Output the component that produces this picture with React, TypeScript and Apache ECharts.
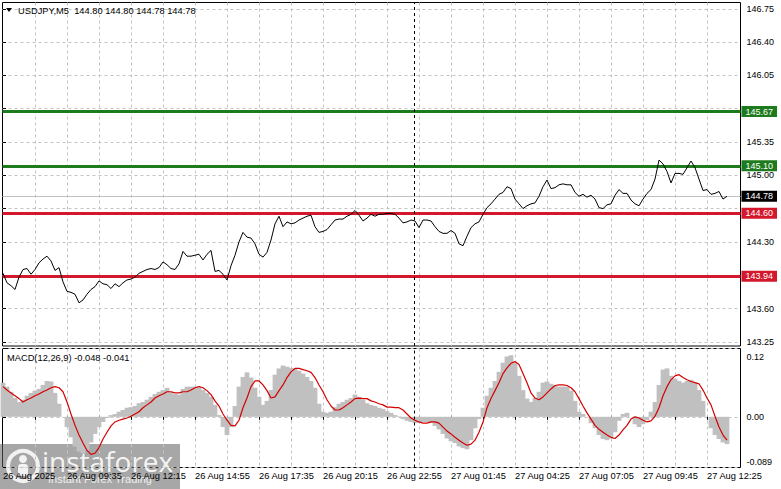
import React, { useEffect, useRef } from "react";
import * as echarts from "echarts";

// ---------- data ----------
const headerText = "USDJPY,M5  144.80 144.80 144.78 144.78";
const macdHeaderText = "MACD(12,26,9) -0.048 -0.041";

// one value every 2 M5 bars (10 minutes)
const barsPerPoint = 2;

const closePrices = [
  143.97, 143.87, 143.84, 143.80, 143.93, 144.01, 144.02, 143.96, 144.01, 144.08,
  144.12, 144.15, 144.10, 144.00, 144.03, 143.88, 143.78, 143.77, 143.75, 143.66,
  143.69, 143.75, 143.80, 143.83, 143.89, 143.86, 143.85, 143.81, 143.86, 143.83,
  143.87, 143.90, 143.91, 143.93, 143.97, 143.99, 144.01, 144.02, 144.01, 144.03,
  144.09, 144.06, 144.02, 144.01, 144.07, 144.20, 144.15, 144.15, 144.16, 144.17,
  144.11, 144.17, 144.21, 143.99, 144.00, 143.96, 143.90, 144.05, 144.16, 144.30,
  144.40, 144.35, 144.34, 144.28, 144.17, 144.14, 144.19, 144.32, 144.49, 144.57,
  144.46, 144.51, 144.49, 144.50, 144.53, 144.55, 144.57, 144.58, 144.46, 144.40,
  144.41, 144.43, 144.48, 144.53, 144.54, 144.54, 144.57, 144.59, 144.63, 144.58,
  144.52, 144.55, 144.59, 144.57, 144.59, 144.59, 144.60, 144.60, 144.59, 144.55,
  144.50, 144.51, 144.53, 144.52, 144.45, 144.53, 144.53, 144.52, 144.46, 144.41,
  144.39, 144.39, 144.42, 144.39, 144.28, 144.26, 144.36, 144.45, 144.49, 144.51,
  144.59, 144.66, 144.70, 144.75, 144.80, 144.82, 144.88, 144.86, 144.75, 144.70,
  144.65, 144.68, 144.70, 144.71, 144.78, 144.88, 144.95, 144.86, 144.87, 144.90,
  144.91, 144.90, 144.90, 144.82, 144.78, 144.80, 144.77, 144.79, 144.75, 144.66,
  144.65, 144.69, 144.70, 144.79, 144.85, 144.81, 144.81, 144.74, 144.70, 144.68,
  144.75, 144.81, 144.85, 144.96, 145.16, 145.12, 145.04, 144.92, 145.02, 145.02,
  145.01, 145.08, 145.15, 145.08, 144.96, 144.84, 144.85, 144.80, 144.81, 144.83,
  144.75, 144.78,
];

const macdHistogram = [
  0.060, 0.053, 0.044, 0.033, 0.026, 0.030, 0.037, 0.042, 0.046, 0.049,
  0.056, 0.063, 0.062, 0.042, 0.023, 0.000, -0.018, -0.036, -0.052, -0.061,
  -0.064, -0.059, -0.045, -0.030, -0.018, -0.009, -0.002, 0.003, 0.005, 0.009,
  0.012, 0.016, 0.017, 0.019, 0.024, 0.026, 0.030, 0.035, 0.040, 0.044,
  0.047, 0.051, 0.044, 0.040, 0.039, 0.049, 0.053, 0.053, 0.053, 0.051,
  0.047, 0.042, 0.035, 0.021, 0.003, -0.018, -0.032, -0.018, 0.019, 0.053,
  0.070, 0.078, 0.069, 0.051, 0.035, 0.021, 0.028, 0.047, 0.074, 0.085,
  0.090, 0.088, 0.086, 0.085, 0.081, 0.076, 0.070, 0.063, 0.051, 0.023,
  0.009, 0.007, 0.009, 0.017, 0.023, 0.026, 0.030, 0.033, 0.039, 0.035,
  0.030, 0.024, 0.021, 0.019, 0.016, 0.014, 0.010, 0.007, 0.003, 0.001,
  -0.004, -0.007, -0.009, -0.011, -0.011, -0.009, -0.009, -0.011, -0.016, -0.022,
  -0.030, -0.038, -0.043, -0.046, -0.052, -0.055, -0.057, -0.041, -0.020, -0.004,
  0.016, 0.037, 0.051, 0.063, 0.079, 0.095, 0.106, 0.108, 0.095, 0.072,
  0.047, 0.032, 0.026, 0.033, 0.044, 0.060, 0.062, 0.058, 0.055, 0.053,
  0.053, 0.053, 0.046, 0.028, 0.009, 0.005, 0.000, -0.011, -0.020, -0.032,
  -0.039, -0.041, -0.038, -0.027, -0.007, 0.005, 0.007, 0.000, -0.013, -0.018,
  -0.013, -0.006, 0.009, 0.026, 0.056, 0.083, 0.085, 0.072, 0.067, 0.063,
  0.060, 0.063, 0.065, 0.060, 0.047, 0.028, 0.000, -0.020, -0.032, -0.039,
  -0.045, -0.048,
];

const macdSignal = [
  0.053, 0.047, 0.042, 0.037, 0.032, 0.026, 0.030, 0.033, 0.037, 0.040,
  0.044, 0.047, 0.051, 0.053, 0.051, 0.044, 0.026, 0.005, -0.015, -0.032,
  -0.046, -0.059, -0.066, -0.064, -0.054, -0.039, -0.027, -0.016, -0.009, -0.006,
  -0.004, -0.002, 0.001, 0.005, 0.009, 0.016, 0.021, 0.026, 0.033, 0.037,
  0.040, 0.044, 0.044, 0.042, 0.042, 0.044, 0.044, 0.047, 0.051, 0.053,
  0.051, 0.046, 0.039, 0.028, 0.019, 0.005, -0.006, -0.015, -0.016, -0.006,
  0.016, 0.033, 0.053, 0.063, 0.063, 0.056, 0.046, 0.033, 0.035, 0.046,
  0.056, 0.069, 0.079, 0.085, 0.085, 0.083, 0.081, 0.078, 0.069, 0.056,
  0.044, 0.030, 0.019, 0.012, 0.012, 0.016, 0.021, 0.026, 0.032, 0.033,
  0.032, 0.032, 0.028, 0.026, 0.023, 0.021, 0.017, 0.017, 0.016, 0.016,
  0.012, 0.005, -0.002, -0.006, -0.009, -0.011, -0.011, -0.009, -0.009, -0.011,
  -0.018, -0.025, -0.030, -0.036, -0.041, -0.046, -0.050, -0.048, -0.041, -0.027,
  -0.009, 0.016, 0.032, 0.046, 0.060, 0.076, 0.086, 0.094, 0.097, 0.092,
  0.076, 0.060, 0.042, 0.033, 0.030, 0.035, 0.042, 0.049, 0.055, 0.056,
  0.056, 0.055, 0.051, 0.044, 0.032, 0.019, 0.007, -0.004, -0.015, -0.022,
  -0.027, -0.032, -0.036, -0.038, -0.032, -0.023, -0.015, -0.004, 0.000, -0.002,
  -0.006, -0.009, -0.007, 0.001, 0.016, 0.037, 0.053, 0.065, 0.072, 0.074,
  0.069, 0.065, 0.062, 0.060, 0.058, 0.047, 0.033, 0.021, 0.001, -0.018,
  -0.032, -0.041,
];

const timeLabels = [
  "26 Aug 2025", "26 Aug 09:35", "26 Aug 12:15", "26 Aug 14:55",
  "26 Aug 17:35", "26 Aug 20:15", "26 Aug 22:55", "27 Aug 01:45",
  "27 Aug 04:25", "27 Aug 07:05", "27 Aug 09:45", "27 Aug 12:25",
];
const barsPerTimeLabel = 32;
const barsPerGridLine = 16;
const daySeparatorBar = 205.5;

const priceGridTicks = [146.75, 146.40, 146.05, 145.70, 145.35, 145.00, 144.65, 144.30, 143.95, 143.60, 143.25];
const priceLabelTicks = [146.75, 146.40, 146.05, 145.35, 145.00, 144.30, 143.60, 143.25];

const resistanceLevels = [145.67, 145.10];
const supportLevels = [144.60, 143.94];
const lastPrice = 144.78;

const macdTicks = [-0.089, 0, 0.12];
const macdTickLabels = ["-0.089", "0.00", "0.12"];

// ---------- styles ----------
const FONT = "Liberation Sans";
const GRID_COLOR = "#c4c4c4";
const GREEN = "#1d7a1d";
const RED = "#d3182b";
const X_MIN = -0.25;
const X_MAX = 368.75;
const PRICE_MIN = 143.206;
const PRICE_MAX = 146.816;

function buildOption(): any {
  const priceData = closePrices.map((p, i) => [i * barsPerPoint, p]);
  const histData = macdHistogram.map((v, i) => [i * barsPerPoint, v]);
  const signalData = macdSignal.map((v, i) => [i * barsPerPoint, v]);

  const gridBars: number[] = [];
  for (let b = barsPerGridLine; b <= (timeLabels.length - 1) * barsPerTimeLabel; b += barsPerGridLine) gridBars.push(b);
  const labelBars = timeLabels.map((_, i) => i * barsPerTimeLabel);

  const tag = (color: string, text: string) => ({
    show: true,
    position: "end",
    distance: 1,
    formatter: text,
    color: "#fff",
    backgroundColor: color,
    padding: [1, 4, 0, 4],
    fontSize: 9,
    lineHeight: 10,
    fontFamily: FONT,
  });

  const levelLines = [
    ...resistanceLevels.map((v) => ({
      yAxis: v,
      lineStyle: { color: GREEN, width: 3, type: "solid" },
      label: tag(GREEN, v.toFixed(2)),
    })),
    ...supportLevels.map((v) => ({
      yAxis: v,
      lineStyle: { color: RED, width: 3, type: "solid" },
      label: tag(RED, v.toFixed(2)),
    })),
    {
      yAxis: lastPrice,
      lineStyle: { color: "#c0c0c0", width: 1, type: "solid" },
      label: tag("#000", lastPrice.toFixed(2)),
    },
    {
      xAxis: daySeparatorBar,
      lineStyle: { color: "#000", width: 1, type: [3, 3] },
      label: { show: false },
    },
  ];

  const axisText = { color: "#000", fontFamily: FONT, fontSize: 9.3 };

  return {
    animation: false,
    backgroundColor: "#fff",
    textStyle: { fontFamily: FONT },
    grid: [
      { left: 2.5, top: 2.5, width: 738, height: 343.5, show: true, borderColor: "#000", borderWidth: 1, backgroundColor: "transparent" },
      { left: 2.5, top: 348.5, width: 738, height: 119, show: true, borderColor: "#000", borderWidth: 1, backgroundColor: "transparent" },
    ],
    xAxis: [
      {
        gridIndex: 0, type: "value", min: X_MIN, max: X_MAX,
        axisLine: { show: false },
        axisTick: { show: false, customValues: gridBars },
        axisLabel: { show: false },
        splitLine: { show: true, lineStyle: { color: GRID_COLOR, width: 1, type: [3, 3] } },
      },
      {
        gridIndex: 1, type: "value", min: X_MIN, max: X_MAX, position: "bottom",
        axisLine: { show: false },
        axisTick: { show: true, inside: false, length: 3, customValues: gridBars, lineStyle: { color: "#000" } },
        axisLabel: {
          ...axisText,
          customValues: labelBars,
          align: "left",
          margin: 4,
          formatter: (v: number) => timeLabels[Math.round(v / barsPerTimeLabel)] ?? "",
        },
        splitLine: { show: true, lineStyle: { color: GRID_COLOR, width: 1, type: [3, 3] } },
      },
    ],
    yAxis: [
      {
        gridIndex: 0, type: "value", position: "right", min: PRICE_MIN, max: PRICE_MAX,
        axisLine: { show: false },
        axisTick: { show: true, inside: false, length: 3, customValues: priceGridTicks, lineStyle: { color: "#000" } },
        axisLabel: { ...axisText, fontSize: 9, customValues: priceLabelTicks, margin: 6, formatter: (v: number) => v.toFixed(2) },
        splitLine: { show: true, lineStyle: { color: GRID_COLOR, width: 1, type: [3, 3] } },
      },
      {
        gridIndex: 1, type: "value", position: "right", min: macdTicks[0], max: macdTicks[2],
        axisLine: { show: false },
        axisTick: { show: true, inside: false, length: 3, customValues: macdTicks, lineStyle: { color: "#000" } },
        axisLabel: {
          ...axisText,
          fontSize: 9,
          customValues: macdTicks,
          margin: 6,
          formatter: (v: number) => {
            let idx = 0;
            macdTicks.forEach((t, i) => { if (Math.abs(t - v) < Math.abs(macdTicks[idx] - v)) idx = i; });
            const s = macdTickLabels[idx];
            if (idx === macdTicks.length - 1) return `{top|${s}}`;
            if (idx === 0) return `{bot|${s}}`;
            return s;
          },
          rich: {
            top: { lineHeight: 26, verticalAlign: "bottom", fontSize: 9, fontFamily: FONT, color: "#000" },
            bot: { lineHeight: 20, verticalAlign: "top", fontSize: 9, fontFamily: FONT, color: "#000" },
          },
        },
        splitLine: { show: true, lineStyle: { color: GRID_COLOR, width: 1, type: [3, 3] } },
      },
    ],
    series: [
      {
        name: "levels", type: "line", xAxisIndex: 0, yAxisIndex: 0, z: 2,
        data: priceData, showSymbol: false, silent: true,
        lineStyle: { opacity: 0 },
        markLine: { symbol: ["none", "none"], silent: true, animation: false, data: levelLines },
      },
      {
        name: "USDJPY", type: "line", xAxisIndex: 0, yAxisIndex: 0, z: 5,
        data: priceData, showSymbol: false, silent: true,
        lineStyle: { color: "#000", width: 1 },
      },
      {
        name: "MACD", type: "bar", xAxisIndex: 1, yAxisIndex: 1, z: 2,
        data: histData, barWidth: 4.8, silent: true,
        itemStyle: { color: "#c0c0c0" },
        markLine: {
          symbol: ["none", "none"], silent: true, animation: false,
          data: [{ xAxis: daySeparatorBar, lineStyle: { color: "#000", width: 1, type: [3, 3] }, label: { show: false } }],
        },
      },
      {
        name: "Signal", type: "line", xAxisIndex: 1, yAxisIndex: 1, z: 5,
        data: signalData, showSymbol: false, silent: true,
        lineStyle: { color: "#d40000", width: 1.2 },
      },
    ],
    graphic: [
      { type: "polygon", shape: { points: [[6, 8], [12, 8], [9, 12]] }, style: { fill: "#000" }, z: 100 },
      { type: "text", x: 18, y: 10.5, style: { text: headerText, fill: "#000", font: `9.3px ${FONT}`, verticalAlign: "middle" }, z: 100 },
      { type: "text", x: 7, y: 357.5, style: { text: macdHeaderText, fill: "#000", font: `9.3px ${FONT}`, verticalAlign: "middle" }, z: 100 },
      {
        type: "group", z: 200,
        children: [
          { type: "rect", shape: { x: 0, y: 444, width: 180, height: 45 }, style: { fill: "rgba(95,95,95,0.55)" } },
          { type: "circle", shape: { cx: 23, cy: 466, r: 15 }, style: { fill: "none", stroke: "rgba(255,255,255,0.85)", lineWidth: 4 } },
          { type: "circle", shape: { cx: 23, cy: 459, r: 4 }, style: { fill: "rgba(255,255,255,0.85)" } },
          { type: "rect", shape: { x: 18, y: 464, width: 10, height: 12, r: 3 }, style: { fill: "rgba(255,255,255,0.85)" } },
          { type: "text", x: 42, y: 461, style: { text: "instaforex", fill: "rgba(255,255,255,0.9)", font: `28px 'Open Sans'`, verticalAlign: "middle" } },
          { type: "text", x: 48, y: 479, style: { text: "Instant Forex Trading", fill: "rgba(255,255,255,0.85)", font: `11px ${FONT}`, verticalAlign: "middle" } },
        ],
      },
    ],
  };
}

export default function App() {
  const ref = useRef<HTMLDivElement>(null);
  useEffect(() => {
    if (!ref.current) return;
    const chart = echarts.init(ref.current, null, { renderer: "svg" });
    chart.setOption(buildOption());
    return () => chart.dispose();
  }, []);
  return (
    <div
      ref={ref}
      style={{ position: "fixed", left: 0, top: 0, width: "781px", height: "489px", background: "#fff" }}
    />
  );
}
